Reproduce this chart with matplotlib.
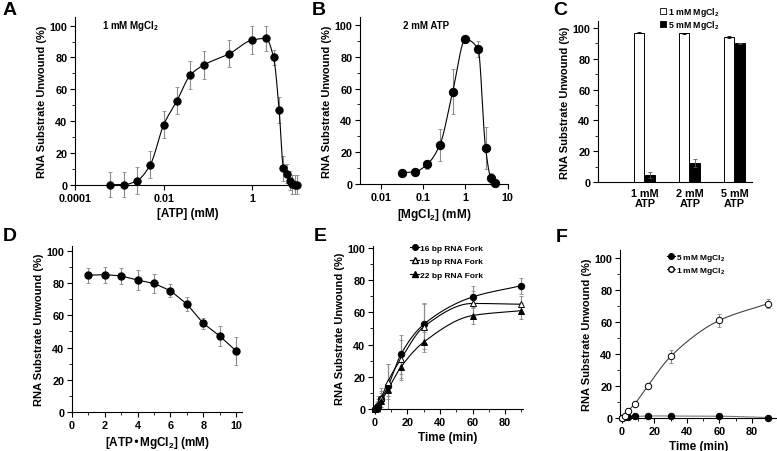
import numpy as np
import matplotlib
matplotlib.use('Agg')
import matplotlib.pyplot as plt
from matplotlib.ticker import MultipleLocator, NullLocator, FixedLocator
from matplotlib.patches import Patch
from matplotlib.lines import Line2D

plt.rcParams['font.family'] = ['Liberation Sans', 'DejaVu Sans']
plt.rcParams['font.weight'] = 'bold'
plt.rcParams['mathtext.default'] = 'regular'
plt.rcParams['axes.linewidth'] = 0.8
plt.rcParams['xtick.labelsize'] = 7.8
plt.rcParams['ytick.labelsize'] = 7.8

# A: ATP titration, 1 mM MgCl2
atp_a = [0.000625, 0.00125, 0.0025, 0.005, 0.01, 0.02, 0.04, 0.08, 0.3, 1,
         2, 3, 4, 5, 6, 7, 8, 9, 10]
unw_a = [0.2, 0.2, 2.7, 12.8, 37.8, 53, 69, 75.3, 82.3, 91,
         92, 80, 47, 10.5, 7, 2.7, 0.5, 0.3, 0.3]
err_a = [8, 8, 8.5, 8.5, 8.5, 8.5, 8.5, 8.5, 8.5, 8.5,
         8, 5, 8, 8, 6, 6, 6, 6, 6]

# B: MgCl2 titration, 2 mM ATP
mg_b = [0.03125, 0.0625, 0.125, 0.25, 0.5, 1, 2, 3, 4, 5]
unw_b = [7, 7.5, 12.3, 24.7, 58, 91, 85, 22.6, 3.8, 0.6]
err_b = [1, 1, 3, 10, 14, 2, 5, 13, 3, 1]

# C: bars
groups_c = ['1 mM\nATP', '2 mM\nATP', '5 mM\nATP']
mg1_c = [97, 96.5, 94]
mg1_err = [0.3, 0.3, 0.6]
mg5_c = [4.5, 12.5, 90]
mg5_err = [2, 2.5, 0.5]

# D: ATP-MgCl2 titration
atpmg_d = [1, 2, 3, 4, 5, 6, 7, 8, 9, 10]
unw_d = [84.9, 85.3, 84.5, 81.9, 79.8, 75.3, 67, 55, 47.2, 37.9]
err_d = [4.5, 5, 5, 6, 6, 4, 4.5, 3.5, 6, 8.5]

# E: time course, fork lengths
time_e = [0, 1, 2, 4, 8, 16, 30, 60, 90]
fork16 = [0, 1, 2, 6, 14, 34, 52.5, 69.5, 76.5]
fork16_err = [0, 2, 4, 5, 14, 12, 13, 7, 5]
fork19 = [0, 1.5, 3, 7, 17, 31, 51, 65.5, 65]
fork19_err = [0, 3, 5, 6, 11, 12, 14, 8, 5]
fork22 = [0, 0.5, 2, 5, 12, 26, 41.5, 58, 61]
fork22_err = [0, 2, 3, 5, 4, 8, 6, 5, 5]

# F: time course, MgCl2
time_f = [0, 2, 4, 8, 16, 30, 60, 90]
mg5_f = [0, 0.5, 0.8, 1, 1.3, 1.2, 1.1, 0.3]
mg5_f_err = [0, 0.3, 0.3, 0.3, 0.3, 0.3, 0.3, 0.3]
mg1_f = [0, 1.5, 4.5, 9, 20.2, 38.5, 61, 71.5]
mg1_f_err = [0, 1, 1.5, 1.5, 1.5, 4, 4, 3]

ERR_COLOR = '#8a8a8a'


def smooth(x, y, log=False, n=25):
    # monotone cubic (pchip) curve through the points, for the connecting line only
    x = np.log10(np.asarray(x, float)) if log else np.asarray(x, float)
    y = np.asarray(y, float)
    h = np.diff(x)
    d = np.diff(y) / h
    m = np.zeros_like(y)
    for k in range(1, len(x) - 1):
        if d[k - 1] * d[k] > 0:
            w1 = 2 * h[k] + h[k - 1]
            w2 = h[k] + 2 * h[k - 1]
            m[k] = (w1 + w2) / (w1 / d[k - 1] + w2 / d[k])
    m[0] = d[0]
    m[-1] = d[-1]
    xs, ys = [], []
    for k in range(len(x) - 1):
        t = np.linspace(0, 1, n)
        h00 = 2 * t**3 - 3 * t**2 + 1
        h10 = t**3 - 2 * t**2 + t
        h01 = -2 * t**3 + 3 * t**2
        h11 = t**3 - t**2
        xs.append(x[k] + t * h[k])
        ys.append(h00 * y[k] + h10 * h[k] * m[k] + h01 * y[k + 1] + h11 * h[k] * m[k + 1])
    xs = np.concatenate(xs)
    ys = np.concatenate(ys)
    if log:
        xs = 10 ** xs
    return xs, ys


def style(ax, ylabel, xlabel, ytop):
    ax.spines['top'].set_visible(False)
    ax.spines['right'].set_visible(False)
    ax.set_ylim(0, ytop)
    ax.yaxis.set_major_locator(MultipleLocator(20))
    ax.yaxis.set_minor_locator(MultipleLocator(10))
    ax.tick_params(which='major', direction='out', length=3.5, width=0.8, pad=2)
    ax.tick_params(which='minor', direction='out', length=2, width=0.6)
    ax.set_ylabel(ylabel, fontsize=8, fontweight='bold', labelpad=2)
    if xlabel:
        ax.set_xlabel(xlabel, fontsize=8.5, fontweight='bold', labelpad=3)


def series(ax, x, y, err, marker='o', mfc='k', ms=5.3, line_color='k', log=False):
    ax.errorbar(x, y, yerr=err, fmt='none', ecolor=ERR_COLOR, elinewidth=0.8,
                capsize=1.5, capthick=0.6, clip_on=False, zorder=2)
    xs, ys = smooth(x, y, log=log)
    ax.plot(xs, ys, color=line_color, lw=0.8, zorder=3, clip_on=False)
    ax.plot(x, y, linestyle='none', marker=marker, mfc=mfc, mec='k', mew=0.7,
            ms=ms, zorder=4, clip_on=False)


YL = 'RNA Substrate Unwound (%)'
fig = plt.figure(figsize=(7.77, 4.52), dpi=100)

# A
axA = fig.add_axes([0.0965, 0.5885, 0.29, 0.372])
series(axA, atp_a, unw_a, err_a, ms=5.3, log=True)
axA.set_xscale('log')
axA.set_xlim(1e-4, 12)
axA.xaxis.set_major_locator(FixedLocator([1e-4, 1e-2, 1]))
axA.xaxis.set_minor_locator(NullLocator())
axA.set_xticklabels(['0.0001', '0.01', '1'])
style(axA, YL, '[ATP] (mM)', 105.5)
axA.text(0.12, 0.95, '1 mM MgCl$_2$', transform=axA.transAxes, fontsize=7,
         fontweight='bold', va='center')

# B
axB = fig.add_axes([0.4633, 0.591, 0.19, 0.369])
series(axB, mg_b, unw_b, err_b, ms=6, log=True)
axB.set_xscale('log')
axB.set_xlim(0.0032, 10)
axB.xaxis.set_major_locator(FixedLocator([0.01, 0.1, 1, 10]))
axB.xaxis.set_minor_locator(NullLocator())
axB.set_xticklabels(['0.01', '0.1', '1', '10'])
style(axB, YL, '[MgCl$_2$] (mM)', 105)
axB.text(0.29, 0.95, '2 mM ATP', transform=axB.transAxes, fontsize=7,
         fontweight='bold', va='center')

# C
axC = fig.add_axes([0.7696, 0.595, 0.198, 0.356])
xc = np.arange(len(groups_c))
bw = 0.22
axC.bar(xc - 0.125, mg1_c, bw, yerr=mg1_err, color='white', edgecolor='k',
        linewidth=0.7, error_kw=dict(elinewidth=0.6, capsize=1.5, capthick=0.6))
axC.bar(xc + 0.125, mg5_c, bw, yerr=mg5_err, color='k', edgecolor='k',
        linewidth=0.7, error_kw=dict(elinewidth=0.6, ecolor='#555555', capsize=1.5, capthick=0.6))
axC.set_xlim(-1.04, 2.38)
axC.set_xticks(xc)
axC.set_xticklabels(groups_c, fontsize=7.8, fontweight='bold', linespacing=1.0)
style(axC, YL, None, 104.5)
axC.tick_params(axis='x', which='major', length=0, pad=4)
handlesC = [Patch(facecolor='white', edgecolor='k', linewidth=0.6, label='1 mM MgCl$_2$'),
            Patch(facecolor='k', edgecolor='k', linewidth=0.6, label='5 mM MgCl$_2$')]
axC.legend(handles=handlesC, loc='upper left', bbox_to_anchor=(0.40, 1.10),
           frameon=False, fontsize=6.3, handlelength=0.7, handleheight=0.7,
           handletextpad=0.25, labelspacing=0.05, borderpad=0, borderaxespad=0)

# D
axD = fig.add_axes([0.0927, 0.0863, 0.219, 0.367])
axD.errorbar(atpmg_d, unw_d, yerr=err_d, fmt='none', ecolor=ERR_COLOR,
             elinewidth=0.8, capsize=1.5, capthick=0.6, zorder=2)
axD.plot(atpmg_d, unw_d, color='k', lw=0.8, marker='o', mfc='k', mec='k',
         ms=5, zorder=3)
axD.set_xlim(0, 10.37)
axD.xaxis.set_major_locator(MultipleLocator(2))
axD.xaxis.set_minor_locator(MultipleLocator(1))
style(axD, YL, '[ATP\u2022MgCl$_2$] (mM)', 103)

# E
axE = fig.add_axes([0.48, 0.093, 0.193, 0.36])
series(axE, time_e, fork16, fork16_err, marker='o', mfc='k', ms=4.6)
series(axE, time_e, fork19, fork19_err, marker='^', mfc='white', ms=4.8)
series(axE, time_e, fork22, fork22_err, marker='^', mfc='k', ms=4.8)
axE.set_xlim(-1.2, 91)
axE.xaxis.set_major_locator(MultipleLocator(20))
axE.xaxis.set_minor_locator(MultipleLocator(10))
style(axE, YL, 'Time (min)', 101)
handlesE = [Line2D([], [], color='k', lw=0.8, marker='o', mfc='k', mec='k', ms=4, label='16 bp RNA Fork'),
            Line2D([], [], color='k', lw=0.8, marker='^', mfc='white', mec='k', ms=4.2, label='19 bp RNA Fork'),
            Line2D([], [], color='k', lw=0.8, marker='^', mfc='k', mec='k', ms=4.2, label='22 bp RNA Fork')]
axE.legend(handles=handlesE, loc='upper left', bbox_to_anchor=(0.25, 1.015),
           frameon=False, fontsize=6, handlelength=1.0, handletextpad=0.2,
           labelspacing=0.7, borderpad=0, borderaxespad=0)

# F
axF = fig.add_axes([0.798, 0.073, 0.202, 0.372])
series(axF, time_f, mg5_f, mg5_f_err, marker='o', mfc='k', ms=4.6, line_color='#777777')
series(axF, time_f, mg1_f, mg1_f_err, marker='o', mfc='white', ms=4.6, line_color='#444444')
axF.set_xlim(-1.2, 95.4)
axF.xaxis.set_major_locator(MultipleLocator(20))
axF.xaxis.set_minor_locator(MultipleLocator(10))
style(axF, YL, 'Time (min)', 105)
handlesF = [Line2D([], [], color='k', lw=0.8, marker='o', mfc='k', mec='k', ms=4, label='5 mM MgCl$_2$'),
            Line2D([], [], color='#444444', lw=0.8, marker='o', mfc='white', mec='k', ms=4, label='1 mM MgCl$_2$')]
axF.legend(handles=handlesF, loc='upper left', bbox_to_anchor=(0.30, 0.985),
           frameon=False, fontsize=6, handlelength=0.9, handletextpad=0.2,
           labelspacing=0.15, borderpad=0, borderaxespad=0)

# panel letters
for lab, x, y in [('A', 0.003, 0.995), ('B', 0.401, 0.995), ('C', 0.712, 0.995),
                  ('D', 0.003, 0.495), ('E', 0.404, 0.495), ('F', 0.715, 0.493)]:
    fig.text(x, y, lab, fontsize=14, fontweight='bold', va='top', ha='left')

fig.savefig('out.png', dpi=100)
